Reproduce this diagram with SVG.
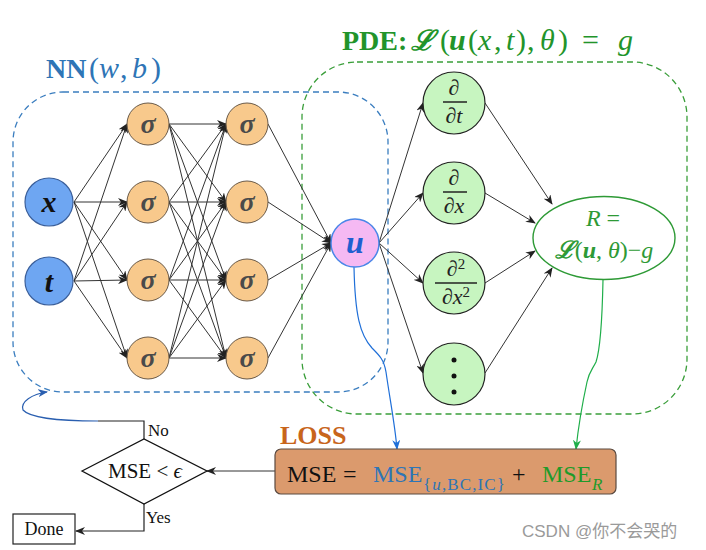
<svg xmlns="http://www.w3.org/2000/svg" width="706" height="550" viewBox="0 0 706 550">
<defs>
<marker id="ah" markerWidth="10" markerHeight="8" refX="9" refY="4" orient="auto" markerUnits="userSpaceOnUse"><path d="M0,0 L10,4 L0,8 L3,4 z" fill="#222"/></marker>
<marker id="ahb" markerWidth="10" markerHeight="8" refX="9" refY="4" orient="auto" markerUnits="userSpaceOnUse"><path d="M0,0 L10,4 L0,8 L3,4 z" fill="#1f6fd8"/></marker>
<marker id="ahg" markerWidth="10" markerHeight="8" refX="9" refY="4" orient="auto" markerUnits="userSpaceOnUse"><path d="M0,0 L10,4 L0,8 L3,4 z" fill="#1fae4a"/></marker>
<marker id="ahn" markerWidth="10" markerHeight="8" refX="9" refY="4" orient="auto" markerUnits="userSpaceOnUse"><path d="M0,0 L10,4 L0,8 L3,4 z" fill="#2a5fb0"/></marker>
<style>
.edge{stroke:#333;stroke-width:1;fill:none;marker-end:url(#ah)}
.inp{fill:#6ea6f2;stroke:#3b5f9a;stroke-width:1.2}
.sig{fill:#f8c98c;stroke:#6a5a48;stroke-width:1}
.der{fill:#c7f5c0;stroke:#222;stroke-width:1.2}
.serif{font-family:"Liberation Serif","DejaVu Serif",serif}
.it{font-style:italic}
.sigt{font-family:"Liberation Serif","DejaVu Serif",serif;font-style:italic;font-weight:bold;font-size:28px;fill:#4a4a4a;text-anchor:middle}
.frac{font-family:"Liberation Serif","DejaVu Serif",serif;font-style:italic;font-size:22px;fill:#222;text-anchor:middle}
</style>
</defs>

<!-- group boxes -->
<g id="nn-box">
<rect x="13" y="92" width="375" height="300" rx="50" fill="none" stroke="#3a7dbf" stroke-width="1.3" stroke-dasharray="6 4"/>
<text y="78" class="serif" font-size="28" fill="#2e75b6"><tspan x="46" font-weight="bold">NN</tspan><tspan x="89" font-size="30">(</tspan><tspan x="99" class="it" font-size="30">w</tspan><tspan x="120" font-size="30">,</tspan><tspan x="132" class="it" font-size="30">b</tspan><tspan x="151" font-size="30">)</tspan></text>
</g>
<g id="pde-box">
<rect x="302" y="62" width="385" height="352" rx="55" fill="none" stroke="#3a9e3a" stroke-width="1.3" stroke-dasharray="6 4"/>
<text y="50" class="serif" font-size="28" fill="#22942a"><tspan x="342" font-weight="bold">PDE:</tspan><tspan x="411" font-weight="bold" class="it">ℒ</tspan><tspan x="440" font-size="30">(</tspan><tspan x="449" font-weight="bold" class="it" font-size="30">u</tspan><tspan x="468" font-size="30">(</tspan><tspan x="478" class="it" font-size="30">x</tspan><tspan x="494" font-size="30">,</tspan><tspan x="506" class="it" font-size="30">t</tspan><tspan x="516" font-size="30">)</tspan><tspan x="527" font-size="30">,</tspan><tspan x="540" class="it" font-size="30">θ</tspan><tspan x="558" font-size="30">)</tspan><tspan x="582" font-size="30">=</tspan><tspan x="618" class="it" font-size="30">g</tspan></text>
</g>

<!-- connectors -->
<g id="connectors">
<line class="edge" x1="74" y1="202" x2="127" y2="124"/>
<line class="edge" x1="74" y1="202" x2="127" y2="202"/>
<line class="edge" x1="74" y1="202" x2="127" y2="280"/>
<line class="edge" x1="74" y1="202" x2="127" y2="358"/>
<line class="edge" x1="74" y1="281" x2="127" y2="124"/>
<line class="edge" x1="74" y1="281" x2="127" y2="202"/>
<line class="edge" x1="74" y1="281" x2="127" y2="280"/>
<line class="edge" x1="74" y1="281" x2="127" y2="358"/>
<line class="edge" x1="169" y1="124" x2="226" y2="124"/>
<line class="edge" x1="169" y1="124" x2="226" y2="202"/>
<line class="edge" x1="169" y1="124" x2="226" y2="280"/>
<line class="edge" x1="169" y1="124" x2="226" y2="358"/>
<line class="edge" x1="169" y1="202" x2="226" y2="124"/>
<line class="edge" x1="169" y1="202" x2="226" y2="202"/>
<line class="edge" x1="169" y1="202" x2="226" y2="280"/>
<line class="edge" x1="169" y1="202" x2="226" y2="358"/>
<line class="edge" x1="169" y1="280" x2="226" y2="124"/>
<line class="edge" x1="169" y1="280" x2="226" y2="202"/>
<line class="edge" x1="169" y1="280" x2="226" y2="280"/>
<line class="edge" x1="169" y1="280" x2="226" y2="358"/>
<line class="edge" x1="169" y1="358" x2="226" y2="124"/>
<line class="edge" x1="169" y1="358" x2="226" y2="202"/>
<line class="edge" x1="169" y1="358" x2="226" y2="280"/>
<line class="edge" x1="169" y1="358" x2="226" y2="358"/>
<line class="edge" x1="268" y1="124" x2="331" y2="243"/>
<line class="edge" x1="268" y1="202" x2="331" y2="243"/>
<line class="edge" x1="268" y1="280" x2="331" y2="243"/>
<line class="edge" x1="268" y1="358" x2="331" y2="243"/>
<line class="edge" x1="379" y1="243" x2="423" y2="103"/>
<line class="edge" x1="379" y1="243" x2="423" y2="193"/>
<line class="edge" x1="379" y1="243" x2="423" y2="283"/>
<line class="edge" x1="379" y1="243" x2="423" y2="373"/>
<line class="edge" x1="485" y1="103" x2="552" y2="204"/>
<line class="edge" x1="485" y1="193" x2="535" y2="223"/>
<line class="edge" x1="485" y1="283" x2="535" y2="251"/>
<line class="edge" x1="485" y1="373" x2="552" y2="268"/>
<path d="M354,267 C355,315 360,335 372,348 C380,356 384,360 386,372 C390,400 395,425 397,449" fill="none" stroke="#1f6fd8" stroke-width="1.2" marker-end="url(#ahb)"/>
<path d="M603,280 C602,330 600,350 596,362 C592,370 589,372 587,382 C582,405 578,430 576,449" fill="none" stroke="#1fae4a" stroke-width="1.2" marker-end="url(#ahg)"/>
<line class="edge" x1="275" y1="471" x2="207" y2="471"/>
<polyline points="144,504 144,531 76,531" fill="none" stroke="#222" stroke-width="1.2" marker-end="url(#ah)"/>
<polyline points="144,439 144,421 98,421" fill="none" stroke="#222" stroke-width="1.2"/>
<path d="M98,421 C60,421 30,418 23,410 C20,402 32,394 47,392" fill="none" stroke="#2a5fb0" stroke-width="1.2" marker-end="url(#ahn)"/>
</g>

<!-- nodes -->
<g id="node-x"><circle cx="49" cy="202" r="24" class="inp"/><text x="49" y="212" text-anchor="middle" class="serif it" font-weight="bold" font-size="30" fill="#111">x</text></g>
<g id="node-t"><circle cx="49" cy="281" r="24" class="inp"/><text x="49" y="292" text-anchor="middle" class="serif it" font-weight="bold" font-size="30" fill="#111">t</text></g>

<g id="l1-1"><circle cx="148" cy="124" r="21" class="sig"/><text x="148" y="133" class="sigt">σ</text></g>
<g id="l1-2"><circle cx="148" cy="202" r="21" class="sig"/><text x="148" y="211" class="sigt">σ</text></g>
<g id="l1-3"><circle cx="148" cy="280" r="21" class="sig"/><text x="148" y="289" class="sigt">σ</text></g>
<g id="l1-4"><circle cx="148" cy="358" r="21" class="sig"/><text x="148" y="367" class="sigt">σ</text></g>
<g id="l2-1"><circle cx="247" cy="124" r="21" class="sig"/><text x="247" y="133" class="sigt">σ</text></g>
<g id="l2-2"><circle cx="247" cy="202" r="21" class="sig"/><text x="247" y="211" class="sigt">σ</text></g>
<g id="l2-3"><circle cx="247" cy="280" r="21" class="sig"/><text x="247" y="289" class="sigt">σ</text></g>
<g id="l2-4"><circle cx="247" cy="358" r="21" class="sig"/><text x="247" y="367" class="sigt">σ</text></g>

<g id="node-u"><circle cx="355" cy="243" r="24" fill="#f5b9f3" stroke="#4a86e8" stroke-width="1.5"/><text x="355" y="253" text-anchor="middle" class="serif it" font-weight="bold" font-size="32" fill="#1f5fd0">u</text></g>

<g id="d-t"><circle cx="454" cy="103" r="31" class="der"/>
<text x="454" y="95" class="frac">∂</text><line x1="443" y1="102" x2="467" y2="102" stroke="#222" stroke-width="1.5"/><text x="454" y="123" class="frac">∂t</text></g>
<g id="d-x"><circle cx="454" cy="193" r="31" class="der"/>
<text x="454" y="185" class="frac">∂</text><line x1="443" y1="192" x2="467" y2="192" stroke="#222" stroke-width="1.5"/><text x="454" y="213" class="frac">∂x</text></g>
<g id="d-xx"><circle cx="454" cy="283" r="31" class="der"/>
<text x="456" y="276" class="frac">∂<tspan font-style="normal" font-size="15" dy="-7">2</tspan></text><line x1="435" y1="283" x2="477" y2="283" stroke="#222" stroke-width="1.5"/><text x="456" y="304" class="frac">∂x<tspan font-style="normal" font-size="15" dy="-7">2</tspan></text></g>
<g id="d-more"><circle cx="454" cy="374" r="31" class="der"/>
<circle cx="454" cy="360" r="2.5" fill="#111"/><circle cx="454" cy="376" r="2.5" fill="#111"/><circle cx="454" cy="392" r="2.5" fill="#111"/></g>

<g id="node-R"><ellipse cx="604" cy="238" rx="71" ry="41.5" fill="#fff" stroke="#2e9a36" stroke-width="1.4"/>
<text x="603" y="226" text-anchor="middle" class="serif" font-size="24" fill="#2e9a36"><tspan class="it">R</tspan> =</text>
<text x="604" y="258" text-anchor="middle" class="serif" font-size="24" fill="#2e9a36"><tspan font-weight="bold" class="it">ℒ</tspan>(<tspan font-weight="bold" class="it">u</tspan>, <tspan class="it">θ</tspan>)−<tspan class="it">g</tspan></text></g>

<g id="loss">
<text x="280" y="444" class="serif" font-size="26" font-weight="bold" fill="#c8651b">LOSS</text>
<rect x="275" y="449" width="341" height="45" rx="6" fill="#db9a6d" stroke="#5a4a40" stroke-width="1.2"/>
<text x="287" y="482" class="serif" font-size="24" fill="#111">MSE</text>
<text x="343" y="482" class="serif" font-size="24" fill="#111">=</text>
<text x="373" y="482" class="serif" font-size="24" fill="#2e75b6">MSE</text>
<text x="423" y="490" class="serif" font-size="17" fill="#2e75b6" textLength="82" lengthAdjust="spacing">{<tspan class="it">u</tspan>,BC,IC}</text>
<text x="512" y="482" class="serif" font-size="24" fill="#111">+</text>
<text x="542" y="482" class="serif" font-size="24" fill="#1f9a2a">MSE</text>
<text x="592" y="490" class="serif it" font-size="17" fill="#1f9a2a">R</text>
</g>

<g id="decision">
<polygon points="82,471 144,439 207,471 144,504" fill="#fff" stroke="#111" stroke-width="1.3"/>
<text x="145" y="478" text-anchor="middle" class="serif" font-size="21" fill="#111">MSE &lt; <tspan class="it">ϵ</tspan></text>
<text x="148" y="436" class="serif" font-size="17" fill="#111">No</text>
<text x="146" y="523" class="serif" font-size="17" fill="#111">Yes</text>
</g>

<g id="done">
<rect x="13" y="514" width="62" height="30" fill="#fff" stroke="#222" stroke-width="1.2"/>
<text x="44" y="535" text-anchor="middle" class="serif" font-size="18" fill="#111">Done</text>
</g>

<text x="522" y="537" font-family="Liberation Sans,'Noto Sans CJK SC',sans-serif" font-size="17" fill="#9a9a9a">CSDN @你不会哭的</text>
</svg>
